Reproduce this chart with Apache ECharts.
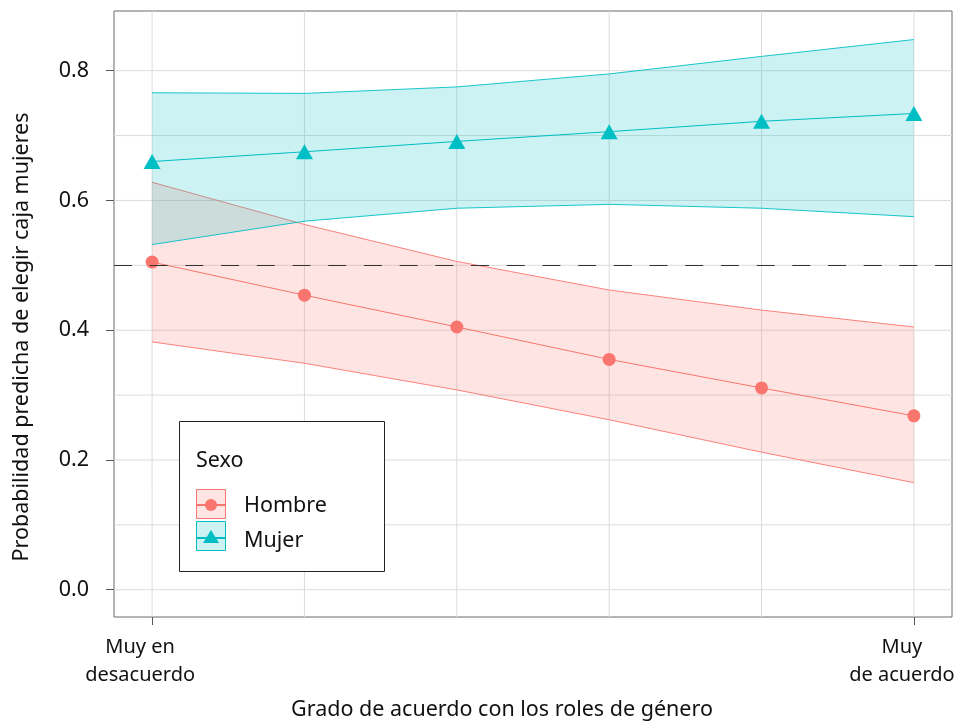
<!DOCTYPE html>
<html>
<head>
<meta charset="utf-8">
<script src="https://cdn.jsdelivr.net/npm/echarts@6/dist/echarts.min.js"></script>
<style>
  html, body { margin: 0; padding: 0; background: #fff; }
  #chart { width: 961px; height: 721px; }
</style>
</head>
<body>
<div id="chart"></div>
<script>
// Agreement levels (1 = muy en desacuerdo ... 6 = muy de acuerdo)
const niveles = [1, 2, 3, 4, 5, 6];
const xTickValues = [1, 6];
const xTickLabels = ['Muy en\ndesacuerdo', 'Muy\nde acuerdo'];
const yTickValues = [0, 0.2, 0.4, 0.6, 0.8];
const yMinorValues = [0.1, 0.3, 0.5, 0.7];

// Predicted probabilities and confidence bounds
const hombre   = [0.505, 0.454, 0.405, 0.355, 0.311, 0.268];
const hombreLo = [0.382, 0.349, 0.308, 0.262, 0.212, 0.165];
const hombreHi = [0.628, 0.563, 0.506, 0.462, 0.431, 0.405];
const mujer    = [0.660, 0.675, 0.691, 0.706, 0.722, 0.734];
const mujerLo  = [0.532, 0.568, 0.588, 0.594, 0.588, 0.575];
const mujerHi  = [0.766, 0.765, 0.775, 0.795, 0.822, 0.848];

const referencia = 0.5;

const X_MIN = 0.75, X_MAX = 6.25;
const Y_MIN = -0.042, Y_MAX = 0.892;

const ROJO = '#F8766D';
const TURQ = '#00BFC4';
const FONT = '"Noto Sans", "Open Sans", sans-serif';
const FS = 21.5;

const chart = echarts.init(document.getElementById('chart'), null, { renderer: 'canvas' });

function bandSeries(name, lo, hi, color, z) {
  return {
    type: 'custom',
    name: name,
    z: z,
    silent: true,
    data: [[0]],
    renderItem: function (params, api) {
      const upper = niveles.map((x, i) => api.coord([x, hi[i]]));
      const lower = niveles.map((x, i) => api.coord([x, lo[i]]));
      return {
        type: 'group',
        children: [
          { type: 'polygon', shape: { points: upper.concat(lower.slice().reverse()) },
            style: { fill: color, opacity: 0.2 } },
          { type: 'polyline', shape: { points: upper },
            style: { stroke: color, lineWidth: 0.9, fill: null } },
          { type: 'polyline', shape: { points: lower },
            style: { stroke: color, lineWidth: 0.9, fill: null } }
        ]
      };
    }
  };
}

// Panel grid lines, drawn through the axes
const gridSeries = {
  type: 'custom',
  name: 'grid',
  z: 0,
  silent: true,
  data: [[0]],
  renderItem: function (params, api) {
    const children = [];
    niveles.forEach(x => {
      const a = api.coord([x, Y_MIN]), b = api.coord([x, Y_MAX]);
      children.push({ type: 'line', shape: { x1: a[0], y1: a[1], x2: b[0], y2: b[1] },
        style: { stroke: '#dcdcdc', lineWidth: 1 } });
    });
    yTickValues.concat(yMinorValues).forEach(y => {
      const a = api.coord([X_MIN, y]), b = api.coord([X_MAX, y]);
      children.push({ type: 'line', shape: { x1: a[0], y1: a[1], x2: b[0], y2: b[1] },
        style: { stroke: '#dcdcdc', lineWidth: 1 } });
    });
    return { type: 'group', children: children };
  }
};

const option = {
  animation: false,
  backgroundColor: '#fff',
  grid: {
    left: 114, right: 9, top: 11, bottom: 104,
    outerBoundsMode: 'none', containLabel: false,
    show: true, borderColor: '#6b6b6b', borderWidth: 1, backgroundColor: 'transparent'
  },
  xAxis: {
    type: 'value', min: X_MIN, max: X_MAX,
    axisLine: { show: false, onZero: false },
    splitLine: { show: false },
    axisTick: { show: true, customValues: xTickValues, length: 8, lineStyle: { color: '#555' } },
    axisLabel: {
      customValues: xTickValues,
      formatter: v => xTickLabels[xTickValues.indexOf(v)] || '',
      color: '#111', fontFamily: FONT, fontSize: 20, lineHeight: 28, margin: 16,
      padding: [0, 24, 0, 0]
    }
  },
  yAxis: {
    type: 'value', min: Y_MIN, max: Y_MAX,
    axisLine: { show: false, onZero: false },
    splitLine: { show: false },
    axisTick: { show: true, customValues: yTickValues, length: 8, lineStyle: { color: '#555' } },
    axisLabel: {
      customValues: yTickValues,
      formatter: v => v.toFixed(1),
      color: '#111', fontFamily: FONT, fontSize: FS, margin: 25
    }
  },
  series: [
    gridSeries,
    bandSeries('HombreIC', hombreLo, hombreHi, ROJO, 1),
    bandSeries('MujerIC', mujerLo, mujerHi, TURQ, 2),
    {
      type: 'line', name: 'Hombre', z: 4,
      data: niveles.map((x, i) => [x, hombre[i]]),
      symbol: 'circle', symbolSize: 13, showSymbol: true,
      lineStyle: { color: ROJO, width: 1 },
      itemStyle: { color: ROJO },
      markLine: {
        silent: true, symbol: 'none', label: { show: false },
        lineStyle: { color: '#333', type: [18, 17.7], width: 1.2 },
        data: [{ yAxis: referencia }]
      }
    },
    {
      type: 'line', name: 'Mujer', z: 4,
      data: niveles.map((x, i) => [x, mujer[i]]),
      symbol: 'triangle', symbolSize: [17, 15], showSymbol: true,
      lineStyle: { color: TURQ, width: 1 },
      itemStyle: { color: TURQ }
    }
  ],
  graphic: [
    // axis titles
    { type: 'text', x: 502, y: 710, z: 10,
      style: { text: 'Grado de acuerdo con los roles de género', fill: '#111',
               font: FS + 'px ' + FONT, align: 'center', verticalAlign: 'middle' } },
    { type: 'text', x: 22, y: 337, rotation: Math.PI / 2, z: 10,
      style: { text: 'Probabilidad predicha de elegir caja mujeres', fill: '#111',
               font: FS + 'px ' + FONT, align: 'center', verticalAlign: 'middle' } },
    // legend box
    { type: 'rect', shape: { x: 179.5, y: 421.5, width: 205, height: 150 }, z: 20,
      style: { fill: '#fff', stroke: '#222', lineWidth: 1 } },
    { type: 'text', x: 196, y: 461, z: 21,
      style: { text: 'Sexo', fill: '#111', font: FS + 'px ' + FONT, verticalAlign: 'middle' } },
    // Hombre key
    { type: 'rect', shape: { x: 196.5, y: 489.5, width: 29, height: 29 }, z: 21,
      style: { fill: 'rgba(248,118,109,0.2)', stroke: ROJO, lineWidth: 1 } },
    { type: 'line', shape: { x1: 197, y1: 505, x2: 225, y2: 505 }, z: 22,
      style: { stroke: ROJO, lineWidth: 2 } },
    { type: 'circle', shape: { cx: 211, cy: 505, r: 6 }, z: 22, style: { fill: ROJO } },
    { type: 'text', x: 244, y: 506, z: 21,
      style: { text: 'Hombre', fill: '#111', font: FS + 'px ' + FONT, verticalAlign: 'middle' } },
    // Mujer key
    { type: 'rect', shape: { x: 196.5, y: 521.5, width: 29, height: 29 }, z: 21,
      style: { fill: 'rgba(0,191,196,0.2)', stroke: TURQ, lineWidth: 1 } },
    { type: 'line', shape: { x1: 197, y1: 538, x2: 225, y2: 538 }, z: 22,
      style: { stroke: TURQ, lineWidth: 2 } },
    { type: 'polygon', shape: { points: [[211, 530], [219, 543], [203, 543]] }, z: 22,
      style: { fill: TURQ } },
    { type: 'text', x: 244, y: 541, z: 21,
      style: { text: 'Mujer', fill: '#111', font: FS + 'px ' + FONT, verticalAlign: 'middle' } }
  ]
};

chart.setOption(option);
</script>
</body>
</html>
